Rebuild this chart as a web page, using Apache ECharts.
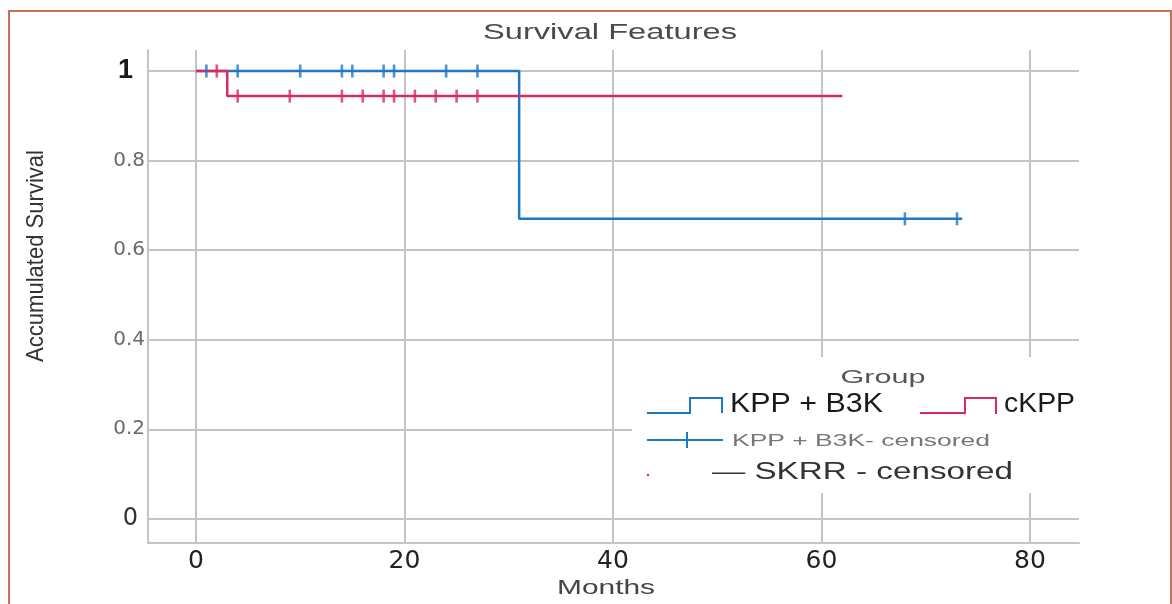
<!DOCTYPE html>
<html>
<head>
<meta charset="utf-8">
<title>Survival Features</title>
<script src="https://cdn.jsdelivr.net/npm/echarts@6/dist/echarts.min.js"></script>
<style>
  html, body { margin: 0; padding: 0; background: #fff; }
  #chart { width: 1172px; height: 604px; }
</style>
</head>
<body>
<div id="chart"></div>
<script>
var monthTicks = [0, 20, 40, 60, 80];
var survivalTicks = [0, 0.2, 0.4, 0.6, 0.8, 1];

// KPP + B3K
var kppMonths = [0, 31, 73.5];
var kppSurvival = [1, 0.67, 0.67];
var kppCensored = [1, 4, 10, 14, 15, 18, 19, 24, 27, 68, 73];

// cKPP
var ckppMonths = [0, 3, 62];
var ckppSurvival = [1, 0.944, 0.944];
var ckppCensored = [2, 4, 9, 14, 16, 18, 19, 21, 23, 25, 27];

var BLUE = '#1f78c2', PINK = '#d92b62', GRID = '#c4c4c4';

function stepPoints(months, survival) {
  var points = [];
  for (var i = 0; i < months.length; i++) { points.push([months[i], survival[i]]); }
  return points;
}

function survivalAt(months, survival, t) {
  var value = survival[0];
  for (var i = 0; i < months.length; i++) {
    if (months[i] <= t) { value = survival[i]; }
  }
  return value;
}

function censorPoints(censored, months, survival) {
  var points = [];
  for (var i = 0; i < censored.length; i++) {
    points.push([censored[i], survivalAt(months, survival, censored[i])]);
  }
  return points;
}

// the picture is stretched sideways, so texts get scaled to the width they have there
var measure = document.createElement('canvas').getContext('2d');
function stretchedText(text, x, y, size, width, color, opts) {
  opts = opts || {};
  var family = opts.family || 'Liberation Sans';
  var weight = opts.weight || 'normal';
  var align = opts.align || 'left';
  measure.font = weight + ' ' + size + 'px "' + family + '"';
  var natural = measure.measureText(text).width;
  return {
    type: 'text', x: x, y: y, z: 20,
    rotation: opts.rotation || 0,
    scaleX: width / natural,
    style: {
      text: text, x: 0, y: 0, fill: color,
      fontSize: size, fontFamily: family, fontWeight: weight,
      align: align, textAlign: align,
      verticalAlign: 'middle', textVerticalAlign: 'middle'
    }
  };
}

function line(points, color, width) {
  return { type: 'polyline', z: 20, shape: { points: points }, style: { stroke: color, lineWidth: width || 2, fill: null } };
}

var gridMarks = [];
for (var i = 0; i < monthTicks.length; i++) { gridMarks.push({ xAxis: monthTicks[i] }); }
for (var j = 0; j < survivalTicks.length; j++) { gridMarks.push({ yAxis: survivalTicks[j] }); }

var chart = echarts.init(document.getElementById('chart'));
chart.setOption({
  animation: false,
  backgroundColor: '#fff',
  grid: { left: 148, top: 50, right: 93, bottom: 61 },
  xAxis: {
    type: 'value', min: -4.6, max: 84.7,
    splitLine: { show: false },
    axisTick: { show: false },
    axisLine: { show: true, onZero: false, lineStyle: { color: GRID, width: 2 } },
    axisLabel: {
      customValues: monthTicks, margin: 6,
      fontSize: 25, fontFamily: 'DejaVu Sans', color: '#222'
    }
  },
  yAxis: {
    type: 'value', min: -0.054, max: 1.047,
    splitLine: { show: false },
    axisTick: { show: false },
    axisLine: { show: true, onZero: false, lineStyle: { color: GRID, width: 2 } },
    axisLabel: {
      customValues: survivalTicks, margin: 3,
      formatter: function(v) {
        if (Math.abs(v - 1) < 1e-6) { return '{b|1}'; }
        if (Math.abs(v) < 1e-6) { return '{z|0}'; }
        return '{g|' + v.toFixed(1) + '}';
      },
      rich: {
        g: { fontSize: 20, fontFamily: 'DejaVu Sans', color: '#6a6a6a' },
        b: { fontSize: 27, fontFamily: 'Liberation Sans', fontWeight: 'bold', color: '#1a1a1a', padding: [0, 12, 0, 0] },
        z: { fontSize: 24, fontFamily: 'DejaVu Sans', color: '#333', padding: [0, 7, 0, 0] }
      }
    }
  },
  series: [
    {
      type: 'line', data: [], silent: true, z: 1,
      markLine: {
        silent: true, symbol: 'none', animation: false, z: 1,
        label: { show: false },
        lineStyle: { color: GRID, width: 2, type: 'solid' },
        data: gridMarks
      }
    },
    {
      name: 'KPP + B3K', type: 'line', step: 'end', z: 6,
      data: stepPoints(kppMonths, kppSurvival),
      showSymbol: false, lineStyle: { color: BLUE, width: 2.5 }, itemStyle: { color: BLUE }
    },
    {
      name: 'cKPP', type: 'line', step: 'end', z: 7,
      data: stepPoints(ckppMonths, ckppSurvival),
      showSymbol: false, lineStyle: { color: PINK, width: 2.5 }, itemStyle: { color: PINK }
    },
    {
      name: 'KPP + B3K - censored', type: 'scatter', z: 8,
      symbol: 'rect', symbolSize: [2.6, 13],
      data: censorPoints(kppCensored, kppMonths, kppSurvival),
      itemStyle: { color: BLUE }
    },
    {
      name: 'cKPP - censored', type: 'scatter', z: 9,
      symbol: 'rect', symbolSize: [2.6, 13],
      data: censorPoints(ckppCensored, ckppMonths, ckppSurvival),
      itemStyle: { color: PINK }
    }
  ],
  graphic: [
    { type: 'rect', z: 30, shape: { x: 9, y: 11, width: 1162, height: 640 }, style: { fill: null, stroke: '#c8705e', lineWidth: 2 } },
    stretchedText('Survival Features', 610, 33, 22, 254, '#4a4a4a', { align: 'center' }),
    stretchedText('Months', 606, 588, 20, 98, '#444', { align: 'center' }),
    stretchedText('Accumulated Survival', 36, 256, 24, 212, '#333', { align: 'center', rotation: Math.PI / 2 }),
    { type: 'rect', z: 10, shape: { x: 632, y: 357, width: 447, height: 136 }, style: { fill: '#fff' } },
    stretchedText('Group', 883, 378, 19, 85, '#555', { align: 'center' }),
    line([[647, 413], [690, 413], [690, 398], [722, 398], [722, 413]], BLUE),
    stretchedText('KPP + B3K', 730, 405, 27, 153, '#1a1a1a'),
    line([[920, 413], [965, 413], [965, 398], [996, 398], [996, 414]], PINK),
    stretchedText('cKPP', 1004, 405, 27, 71, '#1a1a1a'),
    line([[647, 440], [723, 440]], BLUE),
    line([[687, 432], [687, 448]], BLUE),
    stretchedText('KPP + B3K- censored', 732, 441, 17, 258, '#777'),
    { type: 'circle', z: 20, shape: { cx: 648, cy: 475, r: 1.2 }, style: { fill: PINK } },
    stretchedText('\u2014 SKRR - censored', 712, 473, 23, 301, '#333')
  ]
});
</script>
</body>
</html>
